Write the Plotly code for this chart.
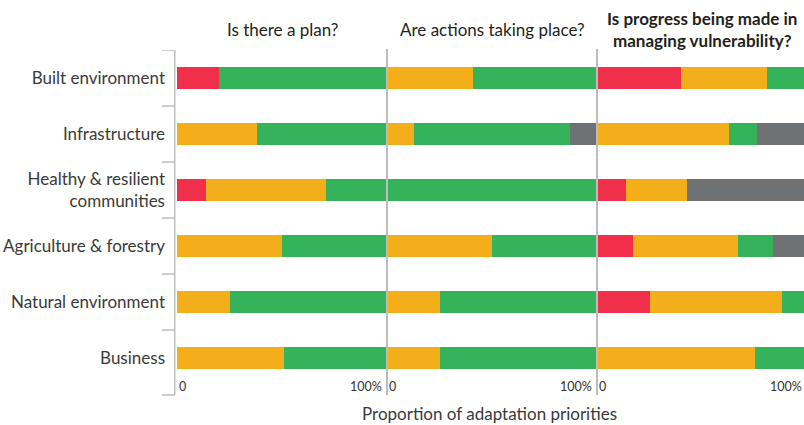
import plotly.graph_objects as go

categories = ["Built environment", "Infrastructure", "Healthy & resilient<br>communities",
              "Agriculture & forestry", "Natural environment", "Business"]

questions = ["Is there a plan?", "Are actions taking place?",
             "<b>Is progress being made in<br>managing vulnerability?</b>"]

# Panel 1: Is there a plan?
plan_red = [20, 0, 14, 0, 0, 0]
plan_yellow = [0, 38, 57, 50, 25, 51]
plan_green = [80, 62, 29, 50, 75, 49]
plan_gray = [0, 0, 0, 0, 0, 0]

# Panel 2: Are actions taking place?
act_red = [0, 0, 0, 0, 0, 0]
act_yellow = [41, 13, 0, 50, 25, 25]
act_green = [59, 74, 100, 50, 75, 75]
act_gray = [0, 13, 0, 0, 0, 0]

# Panel 3: Is progress being made in managing vulnerability?
prog_red = [40, 0, 14, 17, 25, 0]
prog_yellow = [41, 63, 29, 50, 63, 75]
prog_green = [19, 13, 0, 17, 12, 25]
prog_gray = [0, 24, 57, 16, 0, 0]

tick_labels = ["0", "100%"]
x_title = "Proportion of adaptation priorities"

COLORS = {"red": "#F0304A", "yellow": "#F4AE19", "green": "#34B35A", "gray": "#6E7274"}
FONT = "Lato"
W, H = 804, 425

def px(x):
    return x / W

def py(y):
    return 1 - y / H

panels = [
    ("x", [plan_red, plan_yellow, plan_green, plan_gray]),
    ("x2", [act_red, act_yellow, act_green, act_gray]),
    ("x3", [prog_red, prog_yellow, prog_green, prog_gray]),
]

fig = go.Figure()
for xa, series in panels:
    for name, vals in zip(["red", "yellow", "green", "gray"], series):
        fig.add_trace(go.Bar(
            y=categories, x=vals, orientation="h", xaxis=xa, yaxis="y",
            marker=dict(color=COLORS[name], line=dict(width=0)),
            showlegend=False, hoverinfo="x+y",
        ))

# panel pixel extents (each panel 210 px wide; last one clipped by the image edge)
panel_px = [(177, 387), (387, 597), (597, 807)]
top_px, bot_px = 50, 395
row_step = 56
y_bottom_val = 5.5 + (bot_px - (78 + 5 * row_step + row_step / 2)) / row_step

layout_axes = {}
for i, (a, b) in enumerate(panel_px):
    key = "xaxis" if i == 0 else f"xaxis{i+1}"
    right = min(b, W)
    rng_max = 100 * (right - a) / (b - a)
    layout_axes[key] = dict(domain=[px(a), px(right)], range=[0, rng_max],
                            visible=False, anchor="y", fixedrange=True)

fig.update_layout(
    **layout_axes,
    yaxis=dict(domain=[py(bot_px), py(top_px)], range=[y_bottom_val, -0.5],
               type="category", categoryorder="array", categoryarray=categories,
               anchor="free", position=px(165), showline=False, ticks="",
               showgrid=False, zeroline=False, fixedrange=True,
               tickfont=dict(family=FONT, size=17, color="#3a3a3a")),
    barmode="stack", bargap=0.61,
    width=W, height=H, margin=dict(l=0, r=0, t=0, b=0),
    plot_bgcolor="white", paper_bgcolor="white",
    font=dict(family=FONT),
)

shapes = []
AX_GRAY = "#BDBDBD"
# left axis line and boundary ticks
shapes.append(dict(type="line", xref="paper", yref="paper", x0=px(174.7), x1=px(174.7),
                   y0=py(top_px), y1=py(bot_px), line=dict(color=AX_GRAY, width=1.5)))
for b in [-0.5, 0.5, 1.5, 2.5, 3.5, 4.5]:
    shapes.append(dict(type="line", xref="paper", yref="y", x0=px(162), x1=px(174.7),
                       y0=b, y1=b, line=dict(color=AX_GRAY, width=1.5)))
shapes.append(dict(type="line", xref="paper", yref="paper", x0=px(162), x1=px(174.7),
                   y0=py(bot_px), y1=py(bot_px), line=dict(color=AX_GRAY, width=1.5)))
# panel dividers
for a, b in panel_px[1:]:
    shapes.append(dict(type="line", xref="paper", yref="paper", x0=px(a), x1=px(a),
                       y0=py(49), y1=py(bot_px), line=dict(color=AX_GRAY, width=2)))
fig.update_layout(shapes=shapes)

ann = []
for (a, b), q in zip(panel_px, questions):
    ann.append(dict(text=q, xref="paper", yref="paper", x=px((a + b) / 2), y=py(29),
                    xanchor="center", yanchor="middle", showarrow=False,
                    font=dict(family=FONT, size=17, color="#231F20")))
    ann.append(dict(text=tick_labels[0], xref="paper", yref="paper", x=px(a), y=py(386),
                    xanchor="left", yanchor="middle", showarrow=False,
                    font=dict(family=FONT, size=12.5, color="#333333")))
    ann.append(dict(text=tick_labels[1], xref="paper", yref="paper", x=px(b - 3), y=py(386),
                    xanchor="right", yanchor="middle", showarrow=False,
                    font=dict(family=FONT, size=12.5, color="#333333")))
ann.append(dict(text=x_title, xref="paper", yref="paper", x=px(489), y=py(413),
                xanchor="center", yanchor="middle", showarrow=False,
                font=dict(family=FONT, size=17, color="#3a3a3a")))
fig.update_layout(annotations=ann)

fig.write_html("out.html", config={"displayModeBar": False, "staticPlot": True},
               post_script="document.body.style.margin='0';document.body.style.overflow='hidden';")
